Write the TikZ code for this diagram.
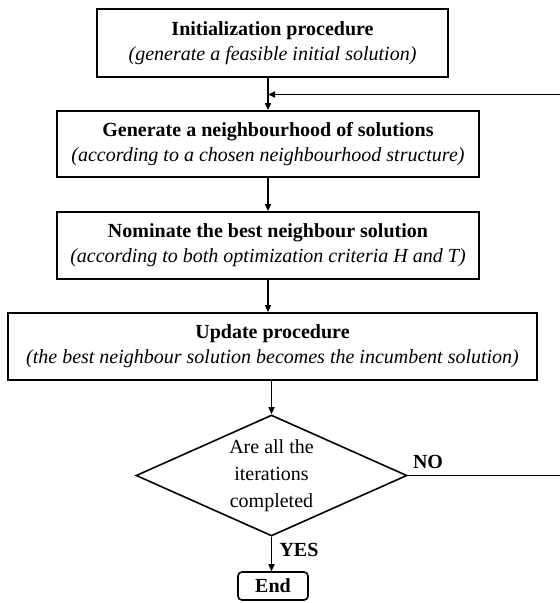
\documentclass[tikz,border=0pt]{standalone}
\usepackage{fontspec}
\setmainfont{Liberation Serif}
\usetikzlibrary{shapes.geometric,arrows.meta}

\tikzset{
  procbox/.style={draw, line width=1.8pt, rectangle, align=center, inner sep=0pt,
    font=\fontsize{20}{25}\selectfont},
  decision/.style={draw, line width=1.6pt, diamond, aspect=2.24, inner sep=0pt, align=center,
    font=\fontsize{20}{27}\selectfont},
  termbox/.style={draw, line width=1.6pt, rectangle, rounded corners=4pt, inner sep=0pt,
    font=\bfseries\fontsize{20}{24}\selectfont},
  flow/.style={line width=1.5pt, -{Triangle[length=7pt,width=6pt]}},
  branch/.style={font=\bfseries\fontsize{20}{24}\selectfont, inner sep=0pt}
}

\begin{document}
\begin{tikzpicture}[x=1pt,y=-1pt]
  \useasboundingbox (0,0) rectangle (560,603);
  \clip (0,0) rectangle (560,603);

  % process steps
  \node[procbox, minimum width=351pt, minimum height=68pt] (init) at (272.5,43)
    {\textbf{Initialization procedure}\\\textit{(generate a feasible initial solution)}};
  \node[procbox, minimum width=422pt, minimum height=66pt] (gen) at (268,144)
    {\textbf{Generate a neighbourhood of solutions}\\\textit{(according to a chosen neighbourhood structure)}};
  \node[procbox, minimum width=422pt, minimum height=67pt] (nom) at (268,245.5)
    {\textbf{Nominate the best neighbour solution}\\\textit{(according to both optimization criteria H and T)}};
  \node[procbox, minimum width=529pt, minimum height=67pt] (upd) at (272.5,346.5)
    {\textbf{Update procedure}\\\textit{(the best neighbour solution becomes the incumbent solution)}};

  % loop test and end
  \node[decision, minimum width=271pt, minimum height=121pt] (test) at (271.5,475.5)
    {Are all the\\iterations\\completed};
  \node[termbox, minimum width=70pt, minimum height=28pt] (end) at (273,586) {End};

  % join point of the loop-back line
  \coordinate (join) at (268,94.5);

  % connectors
  \draw[flow] (init.south -| gen.north) -- (gen.north);
  \draw[flow] (gen.south) -- (nom.north);
  \draw[flow] (nom.south) -- (nom.south |- upd.north);
  \draw[flow] (upd.south -| test.north) -- (test.north);
  \draw[flow] (test.south) -- (test.south |- end.north);
  \draw[flow] (test.east) -- ++(155,0) |- (join);

  % branch labels
  \node[branch] (no) at (428,462) {NO};
  \node[branch] (yes) at (299,550) {YES};
\end{tikzpicture}
\end{document}
